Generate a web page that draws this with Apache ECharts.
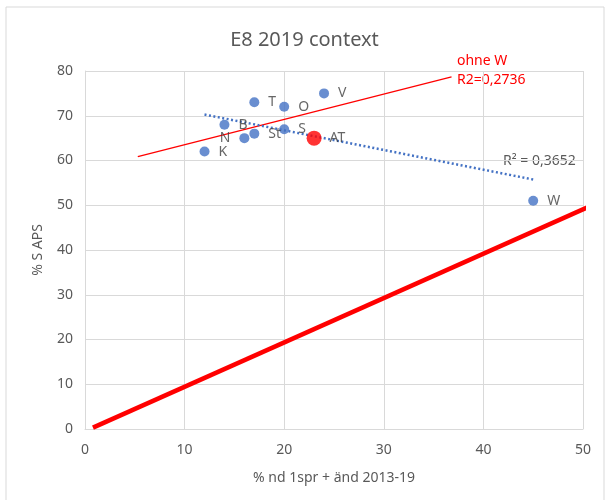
<!DOCTYPE html>
<html>
<head>
<meta charset="utf-8">
<script src="https://cdn.jsdelivr.net/npm/echarts@6/dist/echarts.min.js"></script>
<style>
    body{margin:0;background:#fff;}
    #chart{width:609px;height:500px;}
</style>
</head>
<body>
<div id="chart"></div>
<script>
    // Punkte (blau)
    var names = ['K', 'B', 'N', 'St', 'T', 'O', 'V', 'S', 'W'];
    var xVals = [12, 14, 16, 17, 17, 20, 24, 20, 45];
    var yVals = [62, 68, 65, 66, 73, 72, 75, 67, 51];
    var labelPos = ['right', 'right', 'left', 'right', 'right', 'right', 'right', 'right', 'right'];
    // AT (rot)
    var atName = 'AT';
    var atX = 23;
    var atY = 65;
    // Trendlinie ohne W: x-Bereich
    var ohneWRange = [5.3, 36.8];
    // dicke rote Linie
    var refLineX = [0.8, 50.7];
    var refLineY = [0.3, 49.8];
    var xTicks = [0, 10, 20, 30, 40, 50];
    var yTicks = [0, 10, 20, 30, 40, 50, 60, 70, 80];

    //lineare Regression
    function linReg(xs, ys){
        var n = xs.length, mx = 0, my = 0;
        for (var i = 0; i < n; i++){ mx += xs[i]; my += ys[i]; }
        mx /= n; my /= n;
        var sxy = 0, sxx = 0;
        for (var j = 0; j < n; j++){
            sxy += (xs[j] - mx) * (ys[j] - my);
            sxx += (xs[j] - mx) * (xs[j] - mx);
        }
        var b = sxy / sxx;
        return {b: b, a: my - b * mx};
    }

    var allX = xVals.concat([atX]);
    var allY = yVals.concat([atY]);
    var regAll = linReg(allX, allY);
    var minX = Math.min.apply(null, allX), maxX = Math.max.apply(null, allX);

    var noWX = [], noWY = [];
    for (var k = 0; k < names.length; k++){
        if (names[k] !== 'W'){ noWX.push(xVals[k]); noWY.push(yVals[k]); }
    }
    noWX.push(atX); noWY.push(atY);
    var regNoW = linReg(noWX, noWY);

    var pointData = names.map(function(n, i){
        return {name: n, value: [xVals[i], yVals[i]], label: {position: labelPos[i]}};
    });

    var gray = '#595959';
    var gridColor = '#d9d9d9';

    var myChart = echarts.init(document.getElementById('chart'));
    var option = {
        animation: false,
        title: {
            text: 'E8 2019 context',
            left: 'center',
            top: 25,
            textStyle: {fontFamily: 'Noto Sans', fontSize: 20, fontWeight: 'normal', color: gray}
        },
        grid: {left: 85, right: 26, top: 71, bottom: 71},
        xAxis: {
            type: 'value',
            min: xTicks[0], max: xTicks[xTicks.length - 1], interval: 10,
            name: '% nd 1spr + änd 2013-19',
            nameLocation: 'middle',
            nameGap: 42,
            nameTextStyle: {fontFamily: 'Noto Sans', fontSize: 14, color: gray},
            axisLine: {show: true, lineStyle: {color: gridColor}},
            axisTick: {show: false},
            axisLabel: {fontFamily: 'Noto Sans', fontSize: 14, color: gray, margin: 14},
            splitLine: {show: true, lineStyle: {color: gridColor}}
        },
        yAxis: {
            type: 'value',
            min: yTicks[0], max: yTicks[yTicks.length - 1], interval: 10,
            name: '% S APS',
            nameLocation: 'middle',
            nameGap: 40,
            nameTextStyle: {fontFamily: 'Noto Sans', fontSize: 14, color: gray},
            axisLine: {show: true, lineStyle: {color: gridColor}},
            axisTick: {show: false},
            axisLabel: {fontFamily: 'Noto Sans', fontSize: 14, color: gray, margin: 12},
            splitLine: {show: true, lineStyle: {color: gridColor}}
        },
        series: [
            {
                name: 'ref',
                type: 'line',
                clip: false,
                symbol: 'none',
                data: [[refLineX[0], refLineY[0]], [refLineX[1], refLineY[1]]],
                lineStyle: {color: '#ff0000', width: 4.5},
                z: 2
            },
            {
                name: 'ohne W',
                type: 'line',
                symbol: 'none',
                data: ohneWRange.map(function(x){ return [x, regNoW.a + regNoW.b * x]; }),
                lineStyle: {color: '#ff0000', width: 1.3},
                z: 3
            },
            {
                name: 'trend',
                type: 'line',
                symbol: 'none',
                data: [[minX, regAll.a + regAll.b * minX], [maxX, regAll.a + regAll.b * maxX]],
                lineStyle: {color: '#4472C4', width: 2.5, type: [2, 2.5]},
                z: 3
            },
            {
                name: 'Punkte',
                type: 'scatter',
                symbolSize: 10,
                itemStyle: {color: '#4472C4'},
                label: {
                    show: true,
                    formatter: '{b}',
                    distance: 9,
                    fontFamily: 'Noto Sans', fontSize: 14, color: '#404040'
                },
                data: pointData,
                z: 5
            },
            {
                name: 'AT',
                type: 'scatter',
                symbolSize: 15,
                itemStyle: {color: '#ff0000'},
                label: {
                    show: true,
                    position: 'right',
                    formatter: '{b}',
                    distance: 8,
                    fontFamily: 'Noto Sans', fontSize: 14, color: '#404040'
                },
                data: [{name: atName, value: [atX, atY]}],
                z: 6
            }
        ],
        graphic: [
            {
                type: 'rect',
                shape: {x: 6, y: 7, width: 598, height: 510},
                style: {fill: 'none', stroke: '#d9d9d9', lineWidth: 1},
                silent: true
            },
            {
                type: 'text',
                left: 457, top: 52,
                style: {
                    text: 'ohne W\nR2=0,2736',
                    fill: '#ff0000',
                    font: '14px "Noto Sans"',
                    lineHeight: 19
                }
            },
            {
                type: 'text',
                left: 503, top: 154,
                style: {
                    text: 'R² = 0,3652',
                    fill: gray,
                    font: '14px "Noto Sans"'
                }
            }
        ]
    };
    myChart.setOption(option, true);
</script>
</body>
</html>
